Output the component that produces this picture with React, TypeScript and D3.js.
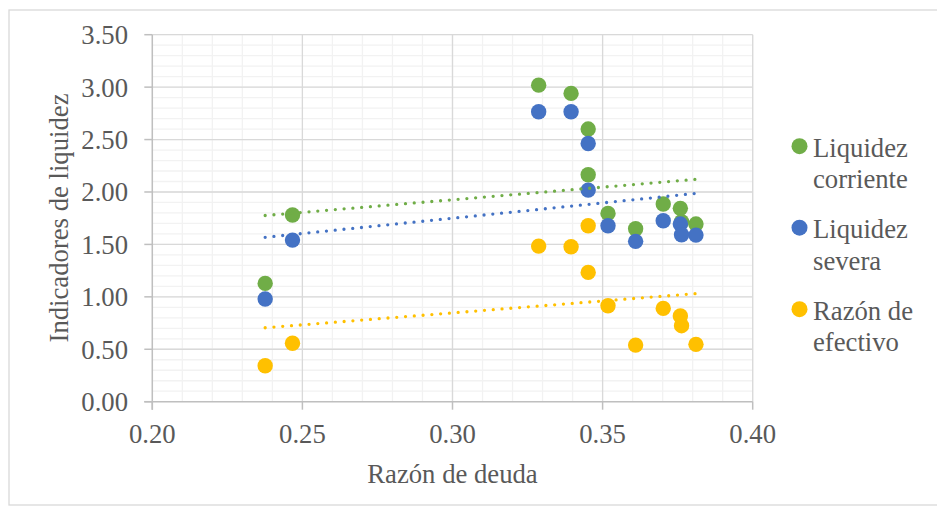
import React from "react";
import * as d3 from "d3";

// Debt ratio for each observation
const debtRatio = [0.2376, 0.2467, 0.3287, 0.3395, 0.3452, 0.3452, 0.3518, 0.361, 0.3702, 0.3759, 0.3763, 0.3811];

// Liquidity indicators per observation
const liquidezCorriente = [1.128, 1.78, 3.019, 2.94, 2.6, 2.164, 1.796, 1.649, 1.885, 1.844, 1.716, 1.694];
const liquidezSevera = [0.979, 1.541, 2.765, 2.765, 2.463, 2.018, 1.678, 1.529, 1.726, 1.694, 1.592, 1.589];
const razonEfectivo = [0.343, 0.557, 1.484, 1.478, 1.678, 1.233, 0.915, 0.54, 0.89, 0.817, 0.725, 0.547];

const seriesNames = [["Liquidez", "corriente"], ["Liquidez", "severa"], ["Razón de", "efectivo"]];
const seriesColors = ["#70AD47", "#4472C4", "#FFC000"];

const xTicks = [0.2, 0.25, 0.3, 0.35, 0.4];
const yTicks = [0, 0.5, 1, 1.5, 2, 2.5, 3, 3.5];

const W = 937;
const H = 506;
const plot = { left: 152.3, right: 752.7, top: 34.7, bottom: 401.7 };
const FONT = "'Liberation Serif', 'Times New Roman', serif";
const TEXT = "#595959";

function linearFit(xs: number[], ys: number[]) {
  const mx = d3.mean(xs) as number;
  const my = d3.mean(ys) as number;
  let sxy = 0;
  let sxx = 0;
  xs.forEach((x, i) => {
    sxy += (x - mx) * (ys[i] - my);
    sxx += (x - mx) * (x - mx);
  });
  const slope = sxy / sxx;
  return (x: number) => my + slope * (x - mx);
}

export default function App() {
  const x = d3.scaleLinear().domain([0.2, 0.4]).range([plot.left, plot.right]);
  const y = d3.scaleLinear().domain([0, 3.5]).range([plot.bottom, plot.top]);

  const minorX = d3.range(0, 21).map((i) => 0.2 + i * 0.01);
  const minorY = d3.range(0, 36).map((i) => i * 0.1);

  const series = [liquidezCorriente, liquidezSevera, razonEfectivo];
  const [xMin, xMax] = d3.extent(debtRatio) as [number, number];
  const line = d3
    .line<[number, number]>()
    .x((d) => x(d[0]))
    .y((d) => y(d[1]));

  return (
    <svg
      width={W}
      height={H}
      style={{ position: "absolute", left: 0, top: 0, background: "#fff" }}
      fontFamily={FONT}
    >
      <rect x={9} y={10} width={940} height={495} fill="#fff" stroke="#D9D9D9" strokeWidth={1.3} />

      {/* minor gridlines */}
      {minorX.map((v, i) => (
        <line key={"mx" + i} x1={x(v)} x2={x(v)} y1={plot.top} y2={plot.bottom} stroke="#F2F2F2" strokeWidth={1.3} />
      ))}
      {minorY.map((v, i) => (
        <line key={"my" + i} x1={plot.left} x2={plot.right} y1={y(v)} y2={y(v)} stroke="#F2F2F2" strokeWidth={1.3} />
      ))}
      {/* major gridlines */}
      {xTicks.slice(1).map((v) => (
        <line key={"gx" + v} x1={x(v)} x2={x(v)} y1={plot.top} y2={plot.bottom} stroke="#D9D9D9" strokeWidth={1.3} />
      ))}
      {yTicks.slice(1).map((v) => (
        <line key={"gy" + v} x1={plot.left} x2={plot.right} y1={y(v)} y2={y(v)} stroke="#D9D9D9" strokeWidth={1.3} />
      ))}

      {/* axes */}
      <line x1={plot.left} x2={plot.left} y1={plot.top} y2={plot.bottom + 8} stroke="#BFBFBF" strokeWidth={1.5} />
      <line x1={plot.left - 8} x2={plot.right} y1={plot.bottom} y2={plot.bottom} stroke="#BFBFBF" strokeWidth={1.5} />
      {yTicks.map((v) => (
        <line key={"ty" + v} x1={plot.left - 8} x2={plot.left} y1={y(v)} y2={y(v)} stroke="#BFBFBF" strokeWidth={1.5} />
      ))}
      {xTicks.map((v) => (
        <line key={"tx" + v} x1={x(v)} x2={x(v)} y1={plot.bottom} y2={plot.bottom + 8} stroke="#BFBFBF" strokeWidth={1.5} />
      ))}

      {/* tick labels */}
      {yTicks.map((v) => (
        <text key={"ly" + v} x={128} y={y(v) + 9.5} textAnchor="end" fontSize={26.7} fill={TEXT}>
          {d3.format(".2f")(v)}
        </text>
      ))}
      {xTicks.map((v) => (
        <text key={"lx" + v} x={x(v)} y={plot.bottom + 41.6} textAnchor="middle" fontSize={26.7} fill={TEXT}>
          {d3.format(".2f")(v)}
        </text>
      ))}

      {/* axis titles */}
      <text x={(plot.left + plot.right) / 2} y={483.3} textAnchor="middle" fontSize={26.7} fill={TEXT}>
        Razón de deuda
      </text>
      <text transform={`translate(68,218) rotate(-90)`} textAnchor="middle" fontSize={26.7} fill={TEXT}>
        Indicadores de liquidez
      </text>

      {/* data points */}
      {series.map((ys, s) =>
        ys.map((v, i) => (
          <circle key={`p${s}-${i}`} cx={x(debtRatio[i])} cy={y(v)} r={7.7} fill={seriesColors[s]} />
        ))
      )}

      {/* linear trendlines */}
      {series.map((ys, s) => {
        const f = linearFit(debtRatio, ys);
        const pts: [number, number][] = [
          [xMin, f(xMin)],
          [xMax, f(xMax)],
        ];
        return (
          <path
            key={"t" + s}
            d={line(pts) as string}
            fill="none"
            stroke={seriesColors[s]}
            strokeWidth={3.3}
            strokeLinecap="round"
            strokeDasharray="0 8.8"
          />
        );
      })}

      {/* legend */}
      {seriesNames.map((lines, s) => {
        const cy = 146.2 + s * 81.5;
        return (
          <g key={"lg" + s}>
            <circle cx={799.5} cy={cy} r={8} fill={seriesColors[s]} />
            <text x={813} y={cy + 10.5} fontSize={26.7} fill={TEXT}>
              {lines[0]}
            </text>
            <text x={813} y={cy + 42.2} fontSize={26.7} fill={TEXT}>
              {lines[1]}
            </text>
          </g>
        );
      })}
    </svg>
  );
}
